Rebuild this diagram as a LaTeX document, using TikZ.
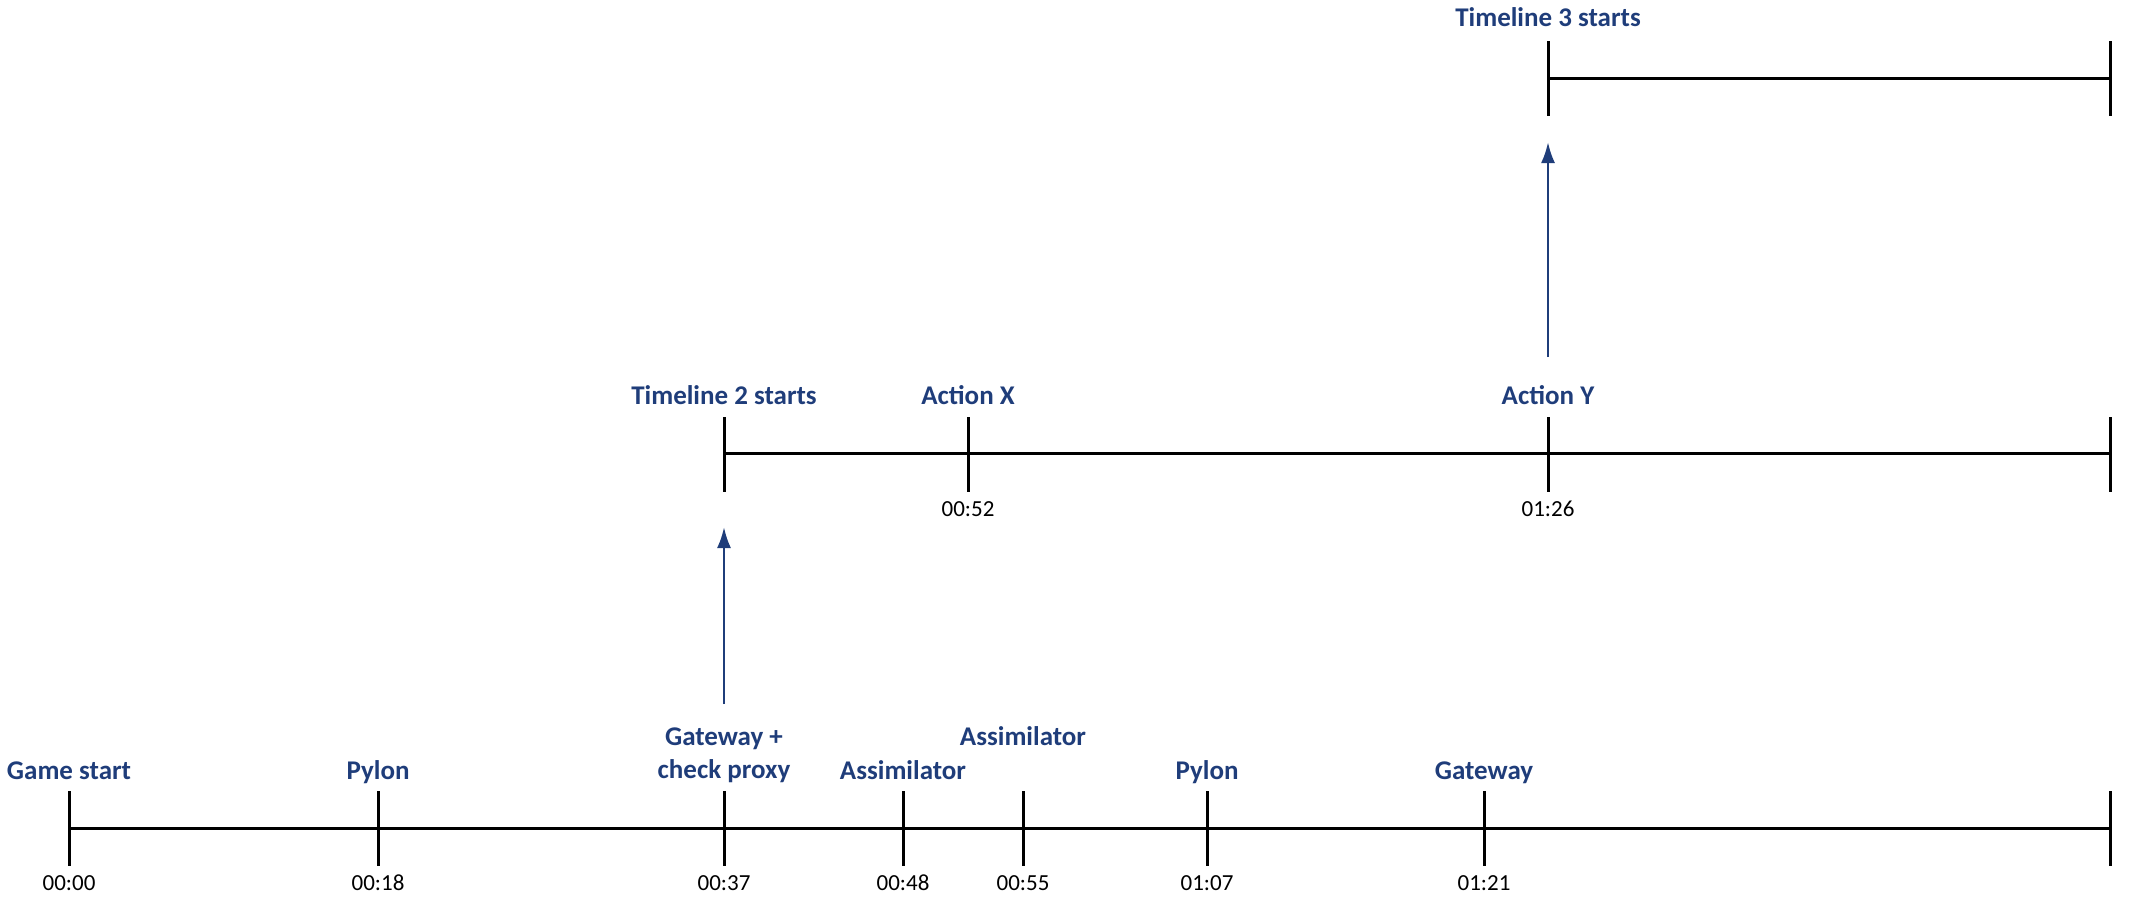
\documentclass[tikz,border=0pt]{standalone}
\usepackage{fontspec}
\setmainfont{Carlito}
\usetikzlibrary{arrows.meta}
\definecolor{lblue}{RGB}{31,61,122}
\begin{document}
\begin{tikzpicture}[x=0.5pt,y=-0.5pt,
  axisline/.style={line width=1.5pt,black},
  lbl/.style={font=\fontsize{13.5}{16.5}\selectfont\bfseries,text=lblue,anchor=base,inner sep=0pt,align=center},
  tm/.style={font=\fontsize{11.5}{13}\selectfont,anchor=base,inner sep=0pt},
  uparrow/.style={draw=lblue,line width=1.3pt,-{Latex[length=10.5pt,width=7pt]}}]
\useasboundingbox (0,0) rectangle (2134,905);

% ---------- bottom timeline ----------
\foreach \n/\x in {b1/69,b2/378,b3/724,b4/903,b5/1023,b6/1207,b7/1484,b8/2110}{
  \coordinate (\n t) at (\x,791);
  \coordinate (\n) at (\x,828);
  \coordinate (\n b) at (\x,866);
  \draw[axisline] (\n t) -- (\n b);
}
\draw[axisline] (b1) -- (b8);
\node[lbl] (gamestart) at (69,779) {Game start};
\node[lbl] (pylon1) at (378,779) {Pylon};
\node[lbl] (gateway1) at (724,778) {Gateway +\\check proxy};
\node[lbl] (assim1) at (903,779) {Assimilator};
\node[lbl] (assim2) at (1023,745) {Assimilator};
\node[lbl] (pylon2) at (1207,779) {Pylon};
\node[lbl] (gateway2) at (1484,779) {Gateway};
\foreach \n/\x/\t in {m1/69/00:00,m2/378/00:18,m3/724/00:37,m4/903/00:48,m5/1023/00:55,m6/1207/01:07,m7/1484/01:21}{
  \node[tm] (\n) at (\x,890) {\t};
}

% ---------- middle timeline ----------
\foreach \n/\x in {c1/724,c2/968,c3/1548,c4/2110}{
  \coordinate (\n t) at (\x,417);
  \coordinate (\n) at (\x,453);
  \coordinate (\n b) at (\x,492);
  \draw[axisline] (\n t) -- (\n b);
}
\draw[axisline] (c1) -- (c4);
\node[lbl] (tl2) at (724,404) {Timeline 2 starts};
\node[lbl] (actx) at (968,404) {Action X};
\node[lbl] (acty) at (1548,404) {Action Y};
\node[tm] (tx) at (968,516) {00:52};
\node[tm] (ty) at (1548,516) {01:26};

% ---------- top timeline ----------
\foreach \n/\x in {d1/1548,d2/2110}{
  \coordinate (\n t) at (\x,41);
  \coordinate (\n) at (\x,78);
  \coordinate (\n b) at (\x,116);
  \draw[axisline] (\n t) -- (\n b);
}
\draw[axisline] (d1) -- (d2);
\node[lbl] (tl3) at (1548,26) {Timeline 3 starts};

% ---------- arrows ----------
\coordinate (a1s) at (724,704);
\coordinate (a1e) at (724,527);
\coordinate (a2s) at (1548,357);
\coordinate (a2e) at (1548,142);
\draw[uparrow] (a1s) -- (a1e);
\draw[uparrow] (a2s) -- (a2e);
\end{tikzpicture}
\end{document}
